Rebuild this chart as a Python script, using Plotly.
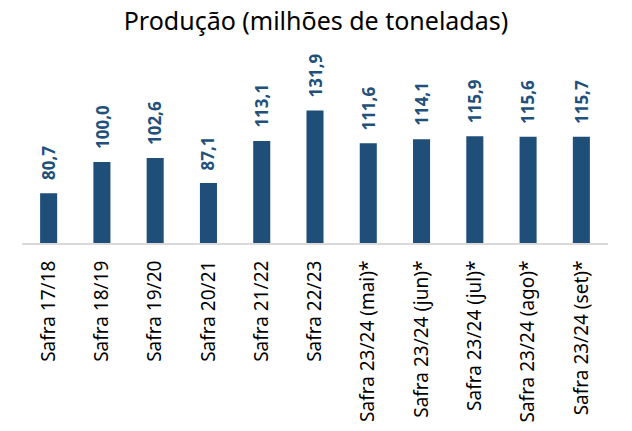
import plotly.graph_objects as go

categories = ["Safra 17/18", "Safra 18/19", "Safra 19/20", "Safra 20/21", "Safra 21/22",
              "Safra 22/23", "Safra 23/24 (mai)*", "Safra 23/24 (jun)*", "Safra 23/24 (jul)*",
              "Safra 23/24 (ago)*", "Safra 23/24 (set)*"]
values = [80.7, 100.0, 102.6, 87.1, 113.1, 131.9, 111.6, 114.1, 115.9, 115.6, 115.7]
labels = [f"{v:.1f}".replace(".", ",") for v in values]

BAR = "#1F4E79"
FONT = "Noto Sans"

fig = go.Figure(go.Bar(x=categories, y=values, marker_color=BAR, marker_line_width=0,
                       width=0.32, base=0))

for c, v, t in zip(categories, values, labels):
    fig.add_annotation(x=c, y=v, text=f"<b>{t}</b>", textangle=-90, showarrow=False,
                       yanchor="bottom", yshift=11,
                       font=dict(family=FONT, size=17, color="#22507A"))

fig.update_layout(
    width=632, height=431,
    margin=dict(l=22, r=24, t=65, b=188),
    paper_bgcolor="white", plot_bgcolor="white",
    title=dict(text="Produção (milhões de toneladas)", x=0.5, xanchor="center",
               y=0.95, yanchor="middle", font=dict(family=FONT, size=25, color="black")),
    showlegend=False,
    xaxis=dict(tickangle=-90, tickfont=dict(family=FONT, size=19, color="black"),
               ticklabelstandoff=8, automargin=False,
               showline=True, linecolor="#D9D9D9", linewidth=2, ticks="", showgrid=False),
    yaxis=dict(range=[50, 160], visible=False, showgrid=False, zeroline=False,
               automargin=False),
)

fig.write_html("out.html")
